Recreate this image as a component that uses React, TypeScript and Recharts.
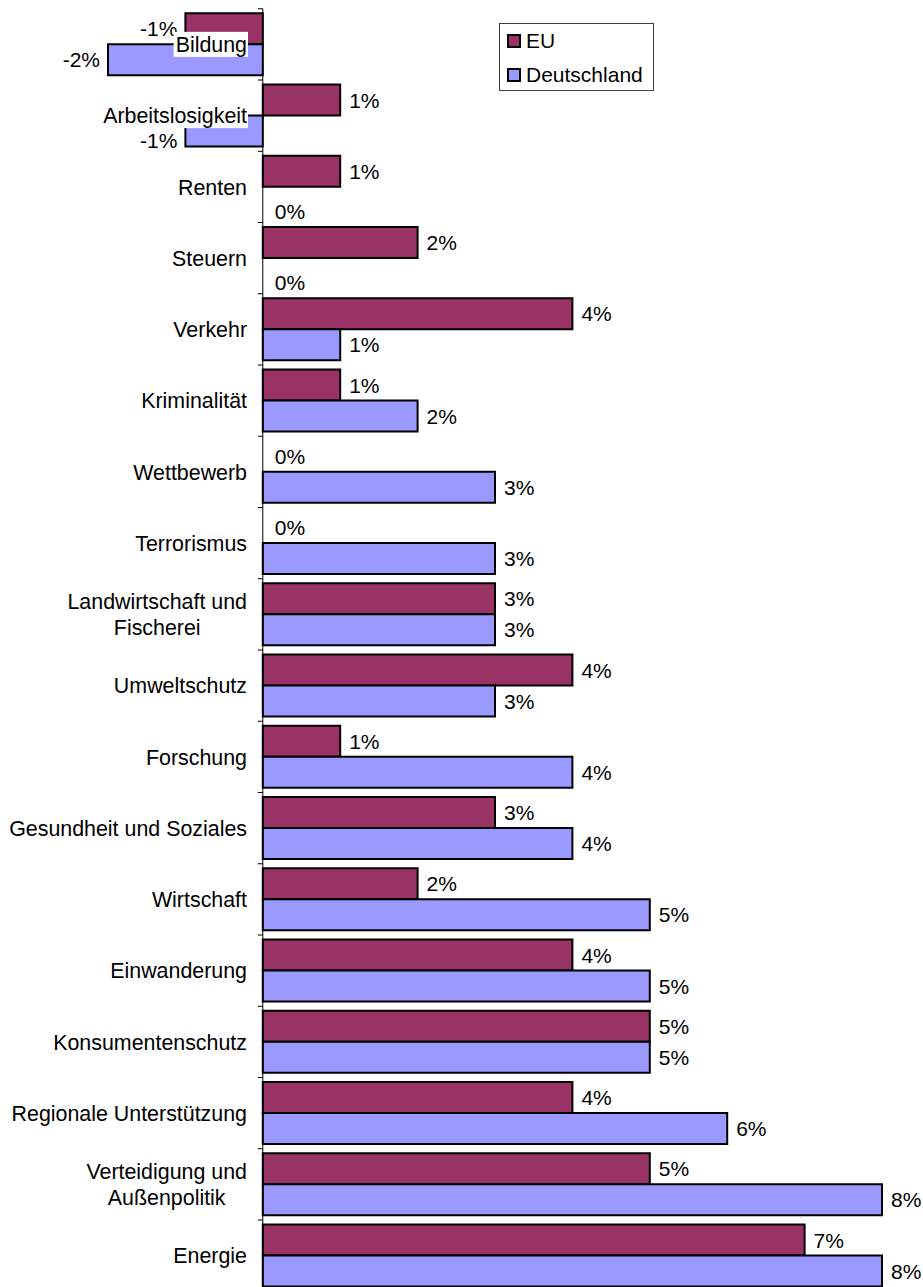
import { BarChart, Bar, XAxis, YAxis, ReferenceLine, LabelList, Legend, Rectangle } from 'recharts';

// Categories top to bottom, "\n" marks a wrapped label
const categories = [
    'Bildung',
    'Arbeitslosigkeit',
    'Renten',
    'Steuern',
    'Verkehr',
    'Kriminalität',
    'Wettbewerb',
    'Terrorismus',
    'Landwirtschaft und\nFischerei',
    'Umweltschutz',
    'Forschung',
    'Gesundheit und Soziales',
    'Wirtschaft',
    'Einwanderung',
    'Konsumentenschutz',
    'Regionale Unterstützung',
    'Verteidigung und\nAußenpolitik',
    'Energie',
];

const euValues = [-1, 1, 1, 2, 4, 1, 0, 0, 3, 4, 1, 3, 2, 4, 5, 4, 5, 7];
const deValues = [-2, -1, 0, 0, 1, 2, 3, 3, 3, 3, 4, 4, 5, 5, 5, 6, 8, 8];

const seriesInfo = [
    { key: 'eu', name: 'EU', color: '#993366' },
    { key: 'de', name: 'Deutschland', color: '#9999FF' },
];

const data = categories.map((name, i) => ({ name, eu: euValues[i], de: deValues[i] }));

const W = 923;
const H = 1300;
const Y_AXIS_W = 108;
const MARGIN = { top: 8.75, right: 41, bottom: 8.75, left: 0 };
const X_DOMAIN: [number, number] = [-2, 8];
const FONT = "'Liberation Sans', Arial, sans-serif";
const FONT_SIZE = 21;
const CAT_FONT_SIZE = 21.4;
const LABEL_RIGHT = 247;
const LINE_H = 26;

const plotLeft = MARGIN.left + Y_AXIS_W;
const plotW = W - plotLeft - MARGIN.right;
const zeroX = plotLeft + ((0 - X_DOMAIN[0]) / (X_DOMAIN[1] - X_DOMAIN[0])) * plotW;
const band = (H - MARGIN.top - MARGIN.bottom) / categories.length;

let ctx: CanvasRenderingContext2D | null = null;
function textWidth(s: string) {
    if (!ctx) ctx = document.createElement('canvas').getContext('2d');
    if (!ctx) return s.length * CAT_FONT_SIZE * 0.5;
    ctx.font = `${CAT_FONT_SIZE}px 'Liberation Sans', Arial`;
    return ctx.measureText(s).width;
}

// Category label, right aligned, lines centred on each other, white box behind
const CategoryTick = ({ y, payload, index }: any) => {
    const lines = String(payload.value).split('\n');
    const widths = lines.map(textWidth);
    const maxW = Math.max(...widths);
    const top = y - ((lines.length - 1) * LINE_H) / 2;
    const cx = LABEL_RIGHT - maxW / 2;
    return (
        <g>
            <line x1={zeroX - 5} x2={zeroX} y1={y - band / 2} y2={y - band / 2} stroke="#000" />
            {index === categories.length - 1 && (
                <line x1={zeroX - 5} x2={zeroX} y1={y + band / 2} y2={y + band / 2} stroke="#000" />
            )}
            {lines.map((l, i) => (
                <g key={i}>
                    <rect x={cx - widths[i] / 2 - 2} y={top + i * LINE_H - 12.5} width={widths[i] + 3} height={25} fill="#fff" />
                    <text x={cx} y={top + i * LINE_H} dy="0.36em" textAnchor="middle" fontFamily={FONT} fontSize={CAT_FONT_SIZE} fill="#000">
                        {l}
                    </text>
                </g>
            ))}
        </g>
    );
};

const valueLabel = (series: string) => (props: any) => {
    const { x, y, width, height, value } = props;
    const v = Number(value);
    const left = Math.min(x, x + width);
    const right = Math.max(x, x + width);
    const neg = v < 0;
    const dx = v === 0 ? 3 : 0;
    const dy = series === 'de' && v <= 0 && v > -2 ? 9 : 0;
    return (
        <text
            x={neg ? left - 8 : right + 9 + dx}
            y={y + height / 2 + dy}
            dy="0.36em"
            textAnchor={neg ? 'end' : 'start'}
            fontFamily={FONT}
            fontSize={FONT_SIZE}
            fill="#000"
        >
            {`${v}%`}
        </text>
    );
};

// zero bars keep a hairline width so their labels survive, but draw nothing
const barShape = (key: string) => (props: any) =>
    props.payload && props.payload[key] === 0 ? <g /> : <Rectangle {...props} />;

const LegendBox = () => (
    <div
        style={{
            width: 155,
            height: 68,
            boxSizing: 'border-box',
            border: '1px solid #404040',
            background: '#fff',
            fontFamily: FONT,
            fontSize: FONT_SIZE,
            paddingLeft: 7,
            marginTop: -1,
        }}
    >
        {seriesInfo.map(s => (
            <div key={s.key} style={{ display: 'flex', alignItems: 'center', height: 34 }}>
                <span
                    style={{
                        display: 'inline-block',
                        width: 14,
                        height: 14,
                        boxSizing: 'border-box',
                        border: '2px solid #000',
                        background: s.color,
                        marginRight: 5,
                    }}
                />
                <span>{s.name}</span>
            </div>
        ))}
    </div>
);

export default function App() {
    return (
        <div style={{ position: 'absolute', left: 0, top: 0, width: 923, height: 1287, overflow: 'hidden', background: '#fff' }}>
            <BarChart width={W} height={H} data={data} layout="vertical" margin={MARGIN} barCategoryGap={4.5} barGap={0}>
                <XAxis type="number" domain={X_DOMAIN} hide />
                {seriesInfo.map(s => (
                    <Bar
                        key={s.key}
                        dataKey={s.key}
                        name={s.name}
                        fill={s.color}
                        stroke="#000"
                        strokeWidth={2}
                        minPointSize={0.01}
                        shape={barShape(s.key)}
                        isAnimationActive={false}
                    >
                        <LabelList dataKey={s.key} content={valueLabel(s.key)} />
                    </Bar>
                ))}
                <ReferenceLine x={0} stroke="#000" strokeWidth={1} />
                <YAxis
                    type="category"
                    dataKey="name"
                    width={Y_AXIS_W}
                    interval={0}
                    axisLine={false}
                    tickLine={false}
                    tick={<CategoryTick />}
                />
                <Legend
                    layout="vertical"
                    align="center"
                    verticalAlign="middle"
                    wrapperStyle={{ left: 499, top: 24, width: 155, height: 68 }}
                    content={<LegendBox />}
                />
            </BarChart>
        </div>
    );
}
